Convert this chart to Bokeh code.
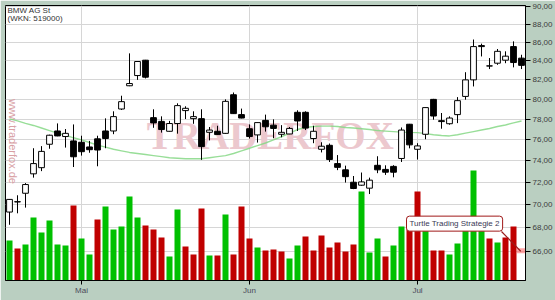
import math
from bokeh.plotting import figure
from bokeh.models import Range1d, LinearScale, FixedTicker, CustomJSTickFormatter, Label
from bokeh.embed import file_html
from bokeh.resources import INLINE

# ---- data ----
opens = [69.36, 70.25, 71.03, 72.80, 73.37, 75.58, 76.86, 76.32, 75.90, 75.77,
         75.32, 76.10, 76.86, 76.86, 79.03, 81.39, 82.45, 84.07, 78.17, 77.80,
         76.83, 77.59, 78.87, 78.07, 78.07, 76.73, 76.83, 76.63, 80.47, 78.47,
         77.08, 76.48, 77.90, 77.43, 76.54, 76.57, 78.70, 78.70, 76.13, 75.10,
         75.48, 73.75, 73.17, 72.03, 71.76, 71.49, 73.59, 73.21, 73.49, 74.23,
         77.52, 75.10, 76.54, 80.00, 77.87, 77.57, 78.47, 80.30, 82.00, 85.64,
         83.45, 83.75, 84.07, 85.53, 84.29]
highs = [70.50, 70.85, 71.95, 75.20, 75.40, 76.50, 77.60, 77.05, 77.50, 76.40,
         75.90, 76.40, 78.10, 78.80, 80.37, 84.80, 83.95, 84.10, 79.00, 78.30,
         77.85, 79.60, 79.30, 78.80, 79.00, 77.25, 77.37, 80.00, 80.70, 79.07,
         77.50, 77.70, 78.47, 78.00, 77.43, 77.25, 78.90, 78.80, 77.37, 75.77,
         75.65, 74.55, 73.56, 72.60, 72.92, 72.45, 74.44, 73.59, 73.60, 77.20,
         77.55, 75.68, 79.20, 80.05, 78.63, 78.30, 80.23, 82.80, 86.30, 85.85,
         84.30, 85.27, 85.02, 86.10, 84.65]
lows = [68.25, 69.25, 69.75, 72.45, 73.05, 75.15, 76.35, 75.26, 73.43, 74.50,
        74.77, 73.50, 75.20, 76.55, 78.93, 81.35, 82.00, 82.15, 77.17, 76.70,
        76.80, 76.60, 78.03, 77.56, 74.10, 75.95, 76.50, 76.60, 78.55, 78.10,
        76.13, 75.74, 76.80, 76.16, 76.25, 76.55, 76.86, 76.95, 75.68, 74.80,
        73.90, 73.14, 72.00, 71.40, 71.70, 70.96, 72.86, 72.70, 72.48, 73.90,
        75.19, 74.13, 76.06, 77.97, 77.08, 77.47, 77.63, 79.97, 81.32, 84.47,
        83.13, 83.58, 83.75, 83.31, 83.13]
closes = [70.48, 70.28, 71.82, 73.75, 74.90, 76.45, 76.38, 76.63, 74.39, 74.87,
          75.06, 75.03, 76.13, 78.27, 79.77, 81.62, 83.93, 82.28, 77.65, 77.00,
          77.59, 79.37, 79.10, 78.27, 75.35, 76.95, 76.51, 79.80, 78.57, 78.13,
          76.32, 77.68, 77.27, 77.11, 76.73, 77.11, 77.84, 77.14, 76.83, 75.39,
          74.13, 73.40, 72.54, 71.46, 72.06, 72.22, 73.17, 72.95, 72.95, 76.95,
          75.52, 75.42, 79.17, 78.33, 77.78, 78.13, 79.87, 82.00, 85.53, 85.53,
          83.47, 85.02, 84.50, 83.82, 83.52]
moving_avg = [78.05, 77.85, 77.60, 77.40, 77.15, 76.90, 76.65, 76.45, 76.20, 76.00,
              75.75, 75.50, 75.30, 75.10, 74.95, 74.80, 74.70, 74.60, 74.50, 74.40,
              74.30, 74.25, 74.20, 74.20, 74.20, 74.30, 74.40, 74.50, 74.70, 74.95,
              75.20, 75.45, 75.70, 76.00, 76.30, 76.65, 77.00, 77.20, 77.30, 77.33,
              77.33, 77.30, 77.20, 77.15, 77.08, 77.00, 76.90, 76.85, 76.80, 76.75,
              76.72, 76.70, 76.60, 76.50, 76.42, 76.38, 76.50, 76.65, 76.80, 76.95,
              77.10, 77.30, 77.45, 77.65, 77.84]
volume = [1200, 960, 1080, 1890, 1440, 1800, 1080, 1050, 2250, 1260,
          780, 1830, 2220, 1530, 1620, 2520, 1890, 1650, 1530, 1290,
          720, 2130, 1020, 780, 2160, 750, 750, 1980, 780, 2220,
          1260, 990, 900, 930, 870, 660, 1050, 1320, 900, 1350,
          990, 1140, 870, 1080, 2670, 840, 1260, 720, 1050, 1620,
          1740, 2670, 1620, 900, 900, 780, 1110, 1560, 3300, 1620,
          1260, 1140, 1290, 1620]
volume_up = [1, 0, 1, 1, 1, 1, 1, 1, 0, 1,
             1, 0, 1, 1, 1, 1, 1, 0, 0, 0,
             1, 1, 0, 0, 0, 1, 0, 1, 0, 0,
             0, 1, 0, 0, 0, 1, 1, 0, 0, 0,
             0, 0, 0, 0, 1, 1, 1, 0, 1, 1,
             0, 0, 1, 0, 0, 1, 1, 1, 1, 1,
             0, 1, 0, 0]
month_pos = [9, 30, 51]
month_labels = ["Mai", "Jun", "Jul"]
price_ticks = [66, 68, 70, 72, 74, 76, 78, 80, 82, 84, 86, 88, 90]
title_lines = ["BMW AG St", "(WKN: 519000)"]
signal_text = "Turtle Trading Strategie 2"
signal_level = 66.0

# ---- derived ----
idx = list(range(len(opens)))
vidx = list(range(len(volume)))
body_top = [max(o, c) for o, c in zip(opens, closes)]
body_bot = [min(o, c) for o, c in zip(opens, closes)]
body_fill = ["white" if c >= o else "black" for o, c in zip(opens, closes)]
vol_color = ["#00c000" if u else "#c00000" for u in volume_up]

FONT = "Liberation Sans"

p = figure(width=555, height=300, output_backend="svg", toolbar_location=None,
           x_range=Range1d(-0.5, 64.5), y_range=Range1d(63.6, 90.1),
           y_axis_type="log", y_axis_location="right",
           min_border_left=5, min_border_right=30, min_border_top=5, min_border_bottom=20,
           background_fill_color="white", border_fill_color="#bacfc1",
           outline_line_color="black", outline_line_width=1)
p.extra_y_ranges = {"vol": Range1d(0, 8250)}
p.extra_y_scales = {"vol": LinearScale()}

# axes
ya = p.yaxis[0]
ya.ticker = FixedTicker(ticks=price_ticks)
ya.formatter = CustomJSTickFormatter(code="return tick.toFixed(2).replace('.', ',');")
ya.major_tick_out = 5
ya.major_tick_in = 0
ya.minor_tick_line_color = None
ya.major_label_standoff = 2
ya.major_label_text_font = FONT
ya.major_label_text_font_size = "8px"
ya.major_label_text_color = "#3c3c3c"
ya.axis_line_color = "black"

xa = p.xaxis[0]
xa.ticker = FixedTicker(ticks=month_pos)
xa.major_label_overrides = dict(zip(month_pos, month_labels))
xa.major_tick_out = 4
xa.major_tick_in = 0
xa.minor_tick_line_color = None
xa.major_label_standoff = 1
xa.major_label_text_font = FONT
xa.major_label_text_font_size = "8px"
xa.major_label_text_color = "#4a4a5a"
xa.axis_line_color = "black"

p.ygrid.ticker = FixedTicker(ticks=price_ticks)
p.xgrid.ticker = FixedTicker(ticks=month_pos)
p.grid.grid_line_color = "#d6d6d6"
p.grid.grid_line_width = 1

# watermarks
p.add_layout(Label(x=32.6, y=76.42, text="TRADERFOX", text_align="center",
                   text_baseline="middle", text_font="Liberation Serif",
                   text_font_style="bold", text_font_size="39px",
                   text_color="#ecc8ce", level="underlay"))
p.add_layout(Label(x=0.44, y=75.85, text="www.traderfox.de", angle=-math.pi / 2,
                   text_align="center", text_baseline="middle", text_font=FONT,
                   text_font_size="11px", text_color="#d8a0a4", level="underlay"))

# volume
p.vbar(x=vidx, top=volume, bottom=0, width=0.75, fill_color=vol_color,
       line_color=None, y_range_name="vol")

# moving average
p.line(idx, moving_avg, line_color="#86d886", line_width=1.4, line_alpha=0.85)

# candles
p.segment(idx, highs, idx, lows, line_color="black", line_width=1)
p.vbar(x=idx, top=body_top, bottom=body_bot, width=0.72, fill_color=body_fill,
       line_color="black", line_width=1)

# title
p.add_layout(Label(x=-0.25, y=88.98, text=title_lines[0], text_font=FONT,
                   text_font_size="8px", text_color="#333333"))
p.add_layout(Label(x=-0.25, y=88.08, text=title_lines[1], text_font=FONT,
                   text_font_size="8px", text_color="#333333"))

# signal annotation
p.quad(left=[63.4], right=[64.8], top=[66.25], bottom=[65.84],
       fill_color="#ff5050", fill_alpha=0.5, line_color=None)
p.segment([61.5], [67.67], [63.9], [signal_level], line_color="#9a1c1c", line_width=1.2)
p.add_layout(Label(x=49.625, y=68.35, text=signal_text, text_font=FONT,
                   text_font_size="8px", text_color="#3a3a55", text_baseline="middle",
                   background_fill_color="white", border_line_color="#a01818",
                   border_line_width=1, padding=3, border_radius=3))

open("out.html", "w").write(file_html(p, INLINE))
